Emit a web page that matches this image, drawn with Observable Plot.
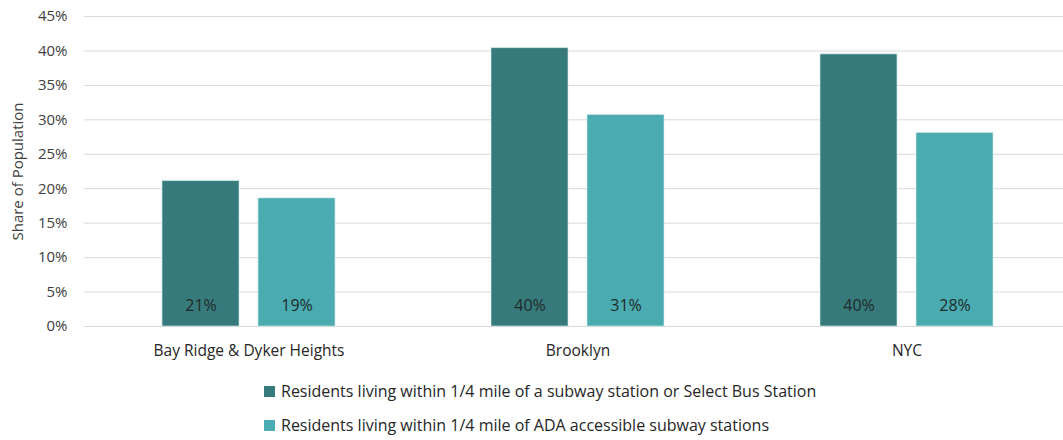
<!DOCTYPE html>
<html>
<head>
<meta charset="utf-8">
<script src="https://cdn.jsdelivr.net/npm/d3@7"></script>
<script src="https://cdn.jsdelivr.net/npm/@observablehq/plot@0.6"></script>
<style>
  body { margin: 0; background: #fff; font-family: "Open Sans", sans-serif; }
  #chart { position: relative; width: 1063px; height: 440px; overflow: hidden; }
  #chart svg { position: absolute; left: 0; top: 0; }
  .legend { position: absolute; left: 264px; top: 374px; font-size: 16px; color: #262626; }
  .legend .item { display: flex; align-items: center; height: 34px; white-space: nowrap; }
  .legend .sw { width: 11px; height: 11px; margin-right: 6px; flex: none; }
</style>
</head>
<body>
<div id="chart"></div>
<script>
// Areas compared
const areas = ["Bay Ridge & Dyker Heights", "Brooklyn", "NYC"];

// Series names (legend text)
const seriesNames = [
  "Residents living within 1/4 mile of a subway station or Select Bus Station",
  "Residents living within 1/4 mile of ADA accessible subway stations"
];

// Share of population per area, one array per series
const nearTransit = [0.211, 0.404, 0.395];
const nearAccessible = [0.186, 0.307, 0.281];

// Y-axis ticks
const yTicks = [0, 0.05, 0.10, 0.15, 0.20, 0.25, 0.30, 0.35, 0.40, 0.45];

const seriesColors = ["#377a7c", "#4aabb0"];

const rows = areas.flatMap((area, i) => [
  { area, series: seriesNames[0], value: nearTransit[i] },
  { area, series: seriesNames[1], value: nearAccessible[i] }
]);

const pct = d3.format(".0%");

const chart = Plot.plot({
  width: 1063,
  height: 370,
  marginTop: 16,
  marginBottom: 44,
  marginLeft: 83,
  marginRight: -8,
  style: { fontFamily: "'Open Sans', sans-serif", fontSize: "15px", background: "transparent" },
  fx: { domain: areas, padding: 0, label: null },
  x: { domain: seriesNames, paddingInner: 0.196, paddingOuter: 0.794, axis: null },
  y: { domain: [0, 0.45] },
  color: { domain: seriesNames, range: seriesColors },
  marks: [
    Plot.ruleY(yTicks, { stroke: "#d9d9d9", strokeWidth: 1 }),
    Plot.barY(rows, {
      fx: "area", x: "series", y: "value", fill: "series",
      stroke: "#d2e9e9", strokeWidth: 0.8, strokeOpacity: 0.8
    }),
    Plot.text(rows, {
      fx: "area", x: "series", y: 0, text: d => pct(d.value),
      dy: -21, fill: "#1f2a2a", fontSize: 16
    }),
    Plot.axisY(yTicks, {
      tickFormat: pct, tickSize: 0, tickPadding: 17, color: "#404040", fontSize: 15,
      label: "Share of Population", labelAnchor: "center", labelArrow: false,
      labelOffset: 72
    }),
    Plot.axisFx({
      anchor: "bottom", tickSize: 0, tickPadding: 18, color: "#262626",
      fontSize: 15.5, label: null
    })
  ]
});

const root = document.getElementById("chart");
root.appendChild(chart);

// Legend below the plot
const legend = document.createElement("div");
legend.className = "legend";
seriesNames.forEach((name, i) => {
  const item = document.createElement("div");
  item.className = "item";
  const sw = document.createElement("span");
  sw.className = "sw";
  sw.style.background = seriesColors[i];
  const label = document.createElement("span");
  label.textContent = name;
  item.append(sw, label);
  legend.appendChild(item);
});
root.appendChild(legend);
</script>
</body>
</html>
